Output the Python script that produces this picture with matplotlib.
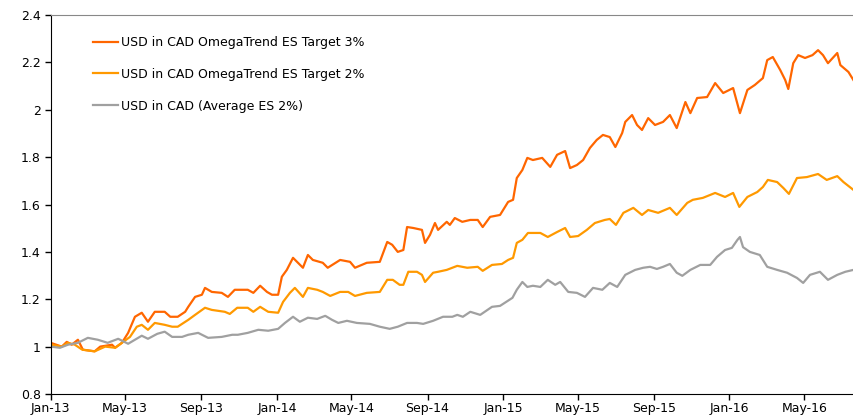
import matplotlib
matplotlib.use("Agg")
import matplotlib.pyplot as plt
import matplotlib.dates as mdates
from matplotlib.ticker import FuncFormatter
import pandas as pd

# values
t3_dates = ["2013-01-01", "2013-01-19", "2013-01-27", "2013-02-04", "2013-02-14", "2013-02-22",
            "2013-03-13", "2013-03-22", "2013-04-10", "2013-04-15", "2013-04-26", "2013-05-06",
            "2013-05-17", "2013-05-28", "2013-06-07", "2013-06-18", "2013-07-04", "2013-07-13",
            "2013-07-25", "2013-08-06", "2013-08-11", "2013-08-22", "2013-09-02", "2013-09-07",
            "2013-09-18", "2013-10-04", "2013-10-14", "2013-10-25", "2013-11-15", "2013-11-24",
            "2013-12-05", "2013-12-16", "2013-12-24", "2014-01-03", "2014-01-09", "2014-01-17",
            "2014-01-27", "2014-02-04", "2014-02-12", "2014-02-20", "2014-02-28", "2014-03-16",
            "2014-03-24", "2014-04-13", "2014-04-29", "2014-05-07", "2014-05-26", "2014-06-16",
            "2014-06-28", "2014-07-06", "2014-07-15", "2014-07-24", "2014-07-30", "2014-08-09",
            "2014-08-23", "2014-08-28", "2014-09-05", "2014-09-13", "2014-09-18", "2014-10-02",
            "2014-10-07", "2014-10-15", "2014-10-27", "2014-11-09", "2014-11-21", "2014-11-29",
            "2014-12-11", "2014-12-27", "2015-01-09", "2015-01-17", "2015-01-23", "2015-02-01",
            "2015-02-09", "2015-02-18", "2015-03-05", "2015-03-18", "2015-03-29", "2015-04-11",
            "2015-04-19", "2015-04-30", "2015-05-10", "2015-05-21", "2015-06-01", "2015-06-11",
            "2015-06-22", "2015-07-01", "2015-07-12", "2015-07-17", "2015-07-28", "2015-08-05",
            "2015-08-13", "2015-08-23", "2015-09-03", "2015-09-16", "2015-09-27", "2015-10-08",
            "2015-10-22", "2015-10-30", "2015-11-10", "2015-11-26", "2015-12-09", "2015-12-22",
            "2016-01-07", "2016-01-18", "2016-01-30", "2016-02-11", "2016-02-24", "2016-03-02",
            "2016-03-11", "2016-03-23", "2016-03-31", "2016-04-05", "2016-04-13", "2016-04-21",
            "2016-05-02", "2016-05-14", "2016-05-23", "2016-05-31", "2016-06-08", "2016-06-23",
            "2016-06-28", "2016-07-11", "2016-07-19"]
t3_values = [1.016, 1.0, 1.02, 1.008, 1.029, 0.987,
             0.98, 1.0, 1.008, 0.995, 1.016, 1.058,
             1.126, 1.143, 1.105, 1.147, 1.147, 1.126,
             1.126, 1.147, 1.168, 1.21, 1.219, 1.248,
             1.231, 1.227, 1.21, 1.24, 1.24, 1.227,
             1.257, 1.231, 1.219, 1.219, 1.295, 1.324,
             1.375, 1.354, 1.333, 1.387, 1.366, 1.354,
             1.333, 1.366, 1.358, 1.333, 1.354, 1.358,
             1.442, 1.43, 1.40, 1.408, 1.505, 1.501,
             1.493, 1.438, 1.472, 1.522, 1.493, 1.527,
             1.514, 1.543, 1.527, 1.535, 1.535, 1.505,
             1.548, 1.556, 1.611, 1.62, 1.712, 1.746,
             1.797, 1.788, 1.797, 1.759, 1.81, 1.826,
             1.754, 1.767, 1.788, 1.839, 1.873, 1.894,
             1.885, 1.843, 1.902, 1.949, 1.978, 1.936,
             1.915, 1.965, 1.936, 1.949, 1.978, 1.923,
             2.033, 1.986, 2.05, 2.054, 2.113, 2.071,
             2.092, 1.986, 2.084, 2.105, 2.134, 2.21,
             2.223, 2.168, 2.126, 2.088, 2.197, 2.231,
             2.219, 2.231, 2.252, 2.231, 2.197, 2.24,
             2.189, 2.16, 2.126]

t2_dates = ["2013-01-01", "2013-01-19", "2013-01-29", "2013-02-09", "2013-02-21", "2013-03-13",
            "2013-03-30", "2013-04-15", "2013-04-26", "2013-05-09", "2013-05-20", "2013-05-28",
            "2013-06-07", "2013-06-18", "2013-07-04", "2013-07-16", "2013-07-25", "2013-08-11",
            "2013-08-22", "2013-09-07", "2013-09-18", "2013-10-09", "2013-10-17", "2013-10-29",
            "2013-11-15", "2013-11-24", "2013-12-05", "2013-12-18", "2014-01-03", "2014-01-11",
            "2014-01-22", "2014-01-30", "2014-02-12", "2014-02-20", "2014-03-07", "2014-03-16",
            "2014-03-28", "2014-04-13", "2014-04-26", "2014-05-07", "2014-05-26", "2014-06-16",
            "2014-06-28", "2014-07-07", "2014-07-18", "2014-07-24", "2014-08-01", "2014-08-15",
            "2014-08-23", "2014-08-28", "2014-09-10", "2014-09-18", "2014-10-02", "2014-10-19",
            "2014-11-04", "2014-11-21", "2014-11-29", "2014-12-14", "2014-12-30", "2015-01-09",
            "2015-01-17", "2015-01-23", "2015-02-01", "2015-02-10", "2015-03-02", "2015-03-14",
            "2015-03-29", "2015-04-11", "2015-04-19", "2015-05-02", "2015-05-16", "2015-05-29",
            "2015-06-14", "2015-06-22", "2015-07-02", "2015-07-14", "2015-07-30", "2015-08-13",
            "2015-08-23", "2015-09-08", "2015-09-27", "2015-10-08", "2015-10-25", "2015-11-03",
            "2015-11-19", "2015-12-09", "2015-12-25", "2016-01-07", "2016-01-17", "2016-01-30",
            "2016-02-15", "2016-02-24", "2016-03-03", "2016-03-18", "2016-03-28", "2016-04-06",
            "2016-04-19", "2016-05-05", "2016-05-23", "2016-06-06", "2016-06-23", "2016-07-03",
            "2016-07-19"]
t2_values = [1.008, 1.0, 1.016, 1.008, 0.987, 0.98,
             1.0, 0.995, 1.016, 1.041, 1.084, 1.092,
             1.071, 1.10, 1.092, 1.084, 1.084, 1.113,
             1.134, 1.164, 1.155, 1.147, 1.138, 1.164,
             1.164, 1.147, 1.168, 1.147, 1.143, 1.189,
             1.227, 1.248, 1.21, 1.248, 1.24, 1.231,
             1.214, 1.231, 1.231, 1.214, 1.227, 1.231,
             1.282, 1.282, 1.261, 1.261, 1.316, 1.316,
             1.303, 1.273, 1.312, 1.316, 1.324, 1.341,
             1.333, 1.337, 1.32, 1.345, 1.349, 1.366,
             1.375, 1.438, 1.451, 1.48, 1.48, 1.463,
             1.484, 1.501, 1.463, 1.467, 1.493, 1.522,
             1.535, 1.539, 1.514, 1.565, 1.586, 1.556,
             1.577, 1.565, 1.586, 1.556, 1.607, 1.62,
             1.628, 1.649, 1.632, 1.649, 1.59, 1.632,
             1.653, 1.674, 1.704, 1.695, 1.67, 1.645,
             1.712, 1.716, 1.729, 1.704, 1.72, 1.695,
             1.662]

avg_dates = ["2013-01-01", "2013-01-16", "2013-01-29", "2013-02-14", "2013-03-02", "2013-03-18",
             "2013-04-03", "2013-04-20", "2013-05-06", "2013-05-17", "2013-05-28", "2013-06-07",
             "2013-06-22", "2013-07-04", "2013-07-16", "2013-08-01", "2013-08-11", "2013-08-27",
             "2013-09-12", "2013-10-04", "2013-10-21", "2013-10-30", "2013-11-15", "2013-12-02",
             "2013-12-18", "2014-01-03", "2014-01-14", "2014-01-27", "2014-02-07", "2014-02-20",
             "2014-03-07", "2014-03-20", "2014-03-31", "2014-04-10", "2014-04-24", "2014-05-10",
             "2014-05-31", "2014-06-16", "2014-07-02", "2014-07-15", "2014-07-30", "2014-08-15",
             "2014-08-25", "2014-09-10", "2014-09-26", "2014-10-11", "2014-10-19", "2014-10-28",
             "2014-11-09", "2014-11-25", "2014-12-14", "2014-12-27", "2015-01-16", "2015-01-23",
             "2015-02-01", "2015-02-09", "2015-02-18", "2015-03-02", "2015-03-14", "2015-03-26",
             "2015-04-03", "2015-04-16", "2015-04-30", "2015-05-13", "2015-05-26", "2015-06-10",
             "2015-06-22", "2015-07-04", "2015-07-17", "2015-08-02", "2015-08-15", "2015-08-26",
             "2015-09-06", "2015-09-16", "2015-09-27", "2015-10-08", "2015-10-17", "2015-10-30",
             "2015-11-15", "2015-12-01", "2015-12-12", "2015-12-25", "2016-01-05", "2016-01-14",
             "2016-01-18", "2016-01-23", "2016-02-03", "2016-02-19", "2016-03-02", "2016-03-18",
             "2016-04-03", "2016-04-19", "2016-04-29", "2016-05-10", "2016-05-26", "2016-06-08",
             "2016-06-23", "2016-07-06", "2016-07-19"]
avg_values = [1.0, 0.995, 1.008, 1.016, 1.037, 1.029,
              1.016, 1.033, 1.012, 1.029, 1.046, 1.033,
              1.054, 1.063, 1.041, 1.041, 1.05, 1.058,
              1.037, 1.041, 1.05, 1.05, 1.058, 1.071,
              1.067, 1.075, 1.10, 1.126, 1.105, 1.122,
              1.117, 1.13, 1.113, 1.10, 1.109, 1.10,
              1.096, 1.084, 1.075, 1.084, 1.10, 1.10,
              1.096, 1.109, 1.126, 1.126, 1.134, 1.126,
              1.147, 1.134, 1.168, 1.172, 1.206, 1.24,
              1.273, 1.252, 1.257, 1.252, 1.282, 1.261,
              1.273, 1.231, 1.227, 1.21, 1.248, 1.24,
              1.269, 1.252, 1.303, 1.324, 1.333, 1.337,
              1.328, 1.337, 1.349, 1.312, 1.299, 1.324,
              1.345, 1.345, 1.379, 1.408, 1.417, 1.451,
              1.463, 1.42, 1.40, 1.387, 1.337, 1.324,
              1.312, 1.29, 1.269, 1.303, 1.316, 1.282,
              1.303, 1.316, 1.324]

labels = ["USD in CAD OmegaTrend ES Target 3%",
          "USD in CAD OmegaTrend ES Target 2%",
          "USD in CAD (Average ES 2%)"]
colors = ["#FF6600", "#FF9900", "#A0A0A0"]
y_ticks = [0.8, 1.0, 1.2, 1.4, 1.6, 1.8, 2.0, 2.2, 2.4]

plt.rcParams['font.family'] = ['DejaVu Sans']
plt.rcParams['font.size'] = 9

fig = plt.figure(figsize=(8.54, 4.2), dpi=100)
ax = fig.add_axes([0.0593, 0.062, 0.9407, 0.902])

series = [(t3_dates, t3_values), (t2_dates, t2_values), (avg_dates, avg_values)]
for (d, v), lab, col in zip(series, labels, colors):
    ax.plot(pd.to_datetime(d), v, color=col, lw=1.6, label=lab)

ax.set_xlim(pd.Timestamp("2013-01-01"), pd.Timestamp("2016-07-20"))
ax.set_ylim(0.8, 2.4)
ax.set_yticks(y_ticks)
ax.yaxis.set_major_formatter(FuncFormatter(lambda v, p: "%g" % round(v, 2)))
ax.xaxis.set_major_locator(mdates.MonthLocator(bymonth=[1, 5, 9]))
ax.xaxis.set_major_formatter(mdates.DateFormatter("%b-%y"))

ax.spines['right'].set_visible(False)
ax.spines['top'].set_color('#888888')
ax.spines['left'].set_color('black')
ax.spines['bottom'].set_color('black')
ax.tick_params(axis='both', direction='out', length=4, width=1, colors='black',
               labelsize=9, pad=3)
ax.tick_params(axis='x', pad=2)

leg = ax.legend(loc='upper left', bbox_to_anchor=(0.046, 0.958), borderaxespad=0,
                frameon=False, fontsize=9, handlelength=2.0, handletextpad=0.3,
                labelspacing=1.5)

fig.savefig("out.png", dpi=100)
